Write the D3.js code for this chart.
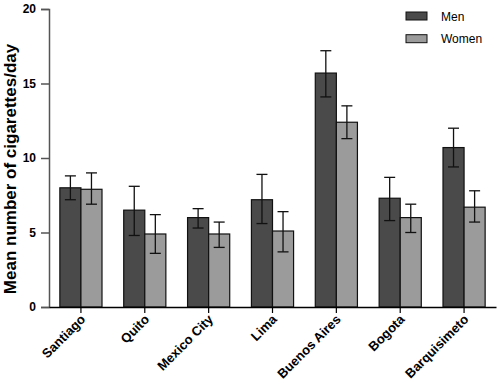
<!DOCTYPE html>
<html>
<head>
<meta charset="utf-8">
<script src="https://cdn.jsdelivr.net/npm/d3@7"></script>
<style>
  body { margin: 0; background: #fff; }
  text { font-family: "Liberation Sans", Arial, sans-serif; }
</style>
</head>
<body>
<div class="chart"></div>
<script>
const width = 498,
    height = 388,
    margin = { top: 9, bottom: 81, left: 49, right: 2 };

const cities = ["Santiago", "Quito", "Mexico City", "Lima", "Buenos Aires", "Bogota", "Barquisimeto"];
const groups = ["Men", "Women"];
const menMean = [8.0, 6.5, 6.0, 7.2, 15.7, 7.3, 10.7];
const menLow = [7.2, 4.8, 5.3, 5.6, 14.1, 5.8, 9.4];
const menHigh = [8.8, 8.1, 6.6, 8.9, 17.2, 8.7, 12.0];
const womenMean = [7.9, 4.9, 4.9, 5.1, 12.4, 6.0, 6.7];
const womenLow = [6.9, 3.6, 4.0, 3.7, 11.3, 5.0, 5.7];
const womenHigh = [9.0, 6.2, 5.7, 6.4, 13.5, 6.9, 7.8];
const yTicks = [0, 5, 10, 15, 20];

const colors = { Men: "#4a4a4a", Women: "#9b9b9b" };

const rows = [];
cities.forEach((c, i) => {
    rows.push({ city: c, group: "Men", mean: menMean[i], low: menLow[i], high: menHigh[i] });
    rows.push({ city: c, group: "Women", mean: womenMean[i], low: womenLow[i], high: womenHigh[i] });
});

const svg = d3.select(".chart")
    .append("svg")
    .attr("width", width)
    .attr("height", height);

const x = d3.scaleBand()
    .domain(cities)
    .range([margin.left, width - margin.right])
    .paddingInner(0.34)
    .paddingOuter(0.17);

const xSub = d3.scaleBand()
    .domain(groups)
    .range([0, x.bandwidth()]);

const y = d3.scaleLinear()
    .domain([0, 20])
    .range([height - margin.bottom, margin.top]);

// bars
svg.append("g")
    .selectAll("rect")
    .data(rows)
    .join("rect")
    .attr("x", d => x(d.city) + xSub(d.group))
    .attr("y", d => y(d.mean))
    .attr("width", xSub.bandwidth())
    .attr("height", d => y(0) - y(d.mean))
    .attr("fill", d => colors[d.group])
    .attr("stroke", "#111")
    .attr("stroke-width", 1.2);

// error bars
const capW = 5.5;
const err = svg.append("g")
    .attr("stroke", "#111")
    .attr("stroke-width", 1.3)
    .selectAll("g")
    .data(rows)
    .join("g")
    .attr("transform", d => `translate(${x(d.city) + xSub(d.group) + xSub.bandwidth() / 2},0)`);

err.append("line")
    .attr("y1", d => y(d.low))
    .attr("y2", d => y(d.high));
err.append("line")
    .attr("x1", -capW).attr("x2", capW)
    .attr("y1", d => y(d.high)).attr("y2", d => y(d.high));
err.append("line")
    .attr("x1", -capW).attr("x2", capW)
    .attr("y1", d => y(d.low)).attr("y2", d => y(d.low));

// y axis
const yAxis = svg.append("g")
    .attr("transform", `translate(${margin.left},0)`)
    .call(d3.axisLeft(y).tickValues(yTicks).tickSize(8).tickPadding(5));
yAxis.select(".domain").attr("stroke", "#555").attr("stroke-width", 1.5);
yAxis.selectAll(".tick line").attr("stroke", "#555").attr("stroke-width", 1.5);
yAxis.selectAll(".tick text")
    .attr("font-size", 12)
    .attr("font-weight", "bold")
    .attr("fill", "#000");

// x axis
const xAxis = svg.append("g")
    .attr("transform", `translate(0,${y(0)})`)
    .call(d3.axisBottom(x).tickSize(6).tickSizeOuter(0));
xAxis.select(".domain").attr("stroke", "#000").attr("stroke-width", 1.5);
xAxis.selectAll(".tick line").attr("stroke", "#000").attr("stroke-width", 1.2);
xAxis.selectAll(".tick text")
    .attr("font-size", 13)
    .attr("font-weight", "bold")
    .attr("fill", "#000")
    .attr("text-anchor", "end")
    .attr("dy", "0.35em")
    .attr("transform", "translate(2,10) rotate(-45)")
    .attr("x", 0)
    .attr("y", 0);

// y label
svg.append("text")
    .text("Mean number of cigarettes/day")
    .attr("transform", "translate(15.5,169) rotate(-90)")
    .attr("text-anchor", "middle")
    .attr("font-size", 17)
    .attr("font-weight", "bold")
    .attr("fill", "#000");

// legend
const legend = svg.append("g")
    .selectAll("g")
    .data(groups)
    .join("g")
    .attr("transform", (d, i) => `translate(406,${12 + i * 22.7})`);
legend.append("rect")
    .attr("width", 21)
    .attr("height", 8)
    .attr("fill", d => colors[d])
    .attr("stroke", "#111")
    .attr("stroke-width", 1);
legend.append("text")
    .text(d => d)
    .attr("x", 35)
    .attr("y", 8.5)
    .attr("font-size", 12)
    .attr("fill", "#000");
</script>
</body>
</html>
